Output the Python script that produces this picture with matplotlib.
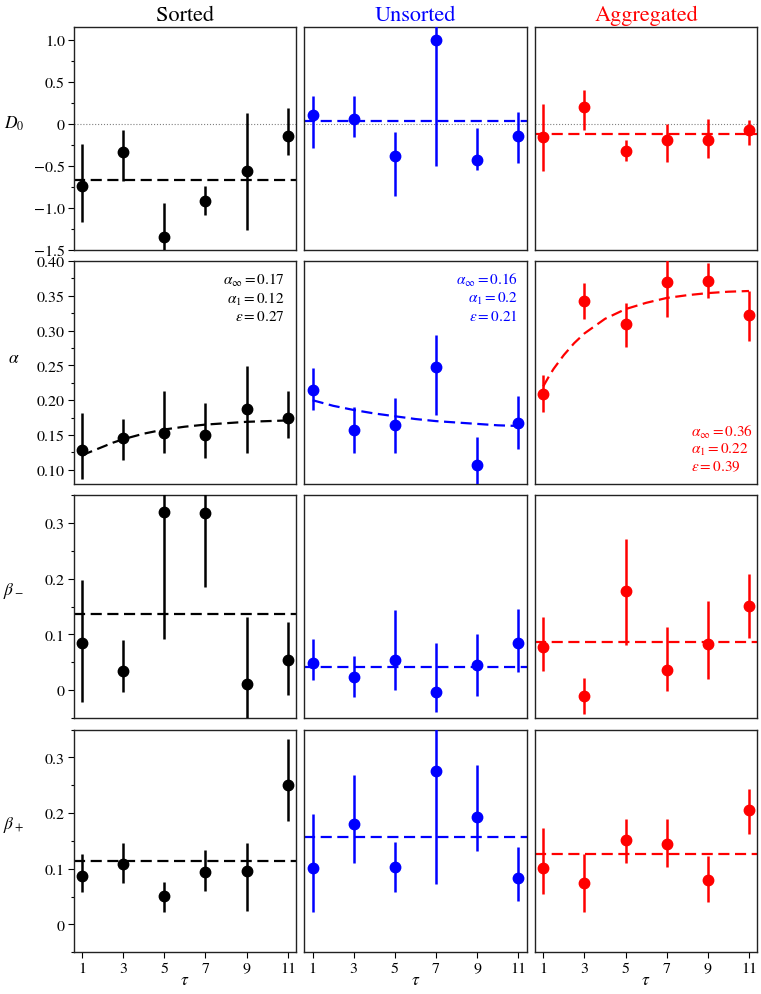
import matplotlib
matplotlib.use("Agg")
from matplotlib import pyplot as plt
from matplotlib.ticker import MultipleLocator

plt.rcParams['font.family'] = ['STIXGeneral', 'DejaVu Serif']
plt.rcParams['mathtext.fontset'] = 'stix'

tau = [1, 3, 5, 7, 9, 11]
columns = ["Sorted", "Unsorted", "Aggregated"]
colors = ["black", "#0000ff", "#ff0000"]
row_labels = [r"$D_0$", r"$\alpha$", r"$\beta_-$", r"$\beta_+$"]

# D0 : point, lower end, upper end of error bar (sorted / unsorted / aggregated)
d0_val = [[-0.745, -0.335, -1.355, -0.92, -0.558, -0.147],
          [0.112, 0.064, -0.386, 1.0, -0.426, -0.139],
          [-0.159, 0.199, -0.327, -0.187, -0.187, -0.068]]
d0_lo = [[-1.175, -0.685, -1.6, -1.084, -1.263, -0.375],
         [-0.287, -0.155, -0.865, -0.506, -0.554, -0.466],
         [-0.566, -0.076, -0.438, -0.454, -0.406, -0.255]]
d0_hi = [[-0.24, -0.068, -0.944, -0.737, 0.131, 0.191],
         [0.331, 0.331, -0.096, 1.5, -0.048, 0.139],
         [0.239, 0.41, -0.187, 0.004, 0.064, 0.052]]
d0_mean = [-0.673, 0.032, -0.12]

# alpha
al_val = [[0.1285, 0.146, 0.153, 0.150, 0.188, 0.175],
          [0.215, 0.1575, 0.165, 0.248, 0.1063, 0.168],
          [0.209, 0.342, 0.310, 0.3695, 0.371, 0.3227]]
al_lo = [[0.087, 0.1135, 0.1246, 0.117, 0.1246, 0.1454],
         [0.1865, 0.1237, 0.1237, 0.1787, 0.06, 0.1304],
         [0.1826, 0.317, 0.2768, 0.319, 0.347, 0.285]]
al_hi = [[0.182, 0.173, 0.213, 0.1956, 0.249, 0.213],
         [0.2468, 0.190, 0.2034, 0.2937, 0.1478, 0.2058],
         [0.2357, 0.3686, 0.3396, 0.42, 0.3975, 0.3565]]

# fitted alpha curves
fit_tau = [1, 1.25, 1.5, 2, 2.5, 3, 4, 5, 6, 7, 8, 9, 10, 11]
fit_sorted = [0.120, 0.124, 0.127, 0.133, 0.139, 0.144, 0.152, 0.158, 0.162,
              0.165, 0.167, 0.169, 0.170, 0.171]
fit_unsorted = [0.200, 0.198, 0.196, 0.192, 0.189, 0.186, 0.181, 0.177, 0.173,
                0.170, 0.168, 0.166, 0.164, 0.163]
fit_aggregated = [0.220, 0.233, 0.245, 0.265, 0.282, 0.296, 0.317, 0.331,
                  0.340, 0.347, 0.351, 0.354, 0.356, 0.357]
fit_text = [r"$\alpha_\infty = 0.17$" + "\n" + r"$\alpha_1 = 0.12$" + "\n" + r"$\varepsilon = 0.27$",
            r"$\alpha_\infty = 0.16$" + "\n" + r"$\alpha_1 = 0.2$" + "\n" + r"$\varepsilon = 0.21$",
            r"$\alpha_\infty = 0.36$" + "\n" + r"$\alpha_1 = 0.22$" + "\n" + r"$\varepsilon = 0.39$"]

# beta minus
bm_val = [[0.0848, 0.0337, 0.3193, 0.3175, 0.0114, 0.0547],
          [0.0487, 0.0228, 0.0547, -0.003, 0.0457, 0.0848],
          [0.0776, -0.0102, 0.1774, 0.0361, 0.083, 0.1515]]
bm_lo = [[-0.0204, -0.0036, 0.092, 0.186, -0.08, -0.0084],
         [0.0174, -0.0126, 0.0006, -0.0397, -0.0102, 0.0331],
         [0.0337, -0.0433, 0.0818, -0.0024, 0.0198, 0.0938]]
bm_hi = [[0.197, 0.0908, 0.40, 0.40, 0.1317, 0.1227],
         [0.092, 0.062, 0.1431, 0.0848, 0.1016, 0.1449],
         [0.1317, 0.021, 0.2724, 0.113, 0.16, 0.208]]
bm_mean = [0.137, 0.0415, 0.086]

# beta plus
bp_val = [[0.0876, 0.108, 0.051, 0.0948, 0.0954, 0.2496],
          [0.102, 0.1806, 0.1026, 0.276, 0.1926, 0.0828],
          [0.102, 0.075, 0.1518, 0.144, 0.0804, 0.2058]]
bp_lo = [[0.0588, 0.0738, 0.0228, 0.06, 0.024, 0.186],
         [0.0216, 0.111, 0.0576, 0.0726, 0.1314, 0.0414],
         [0.054, 0.0228, 0.1098, 0.1032, 0.0396, 0.163]]
bp_hi = [[0.1266, 0.147, 0.0756, 0.1338, 0.147, 0.333],
         [0.1986, 0.268, 0.1476, 0.40, 0.2868, 0.139],
         [0.1734, 0.126, 0.190, 0.189, 0.123, 0.244]]
bp_mean = [0.114, 0.1566, 0.1266]

vals = [d0_val, al_val, bm_val, bp_val]
los = [d0_lo, al_lo, bm_lo, bp_lo]
his = [d0_hi, al_hi, bm_hi, bp_hi]
means = [d0_mean, None, bm_mean, bp_mean]
fits = [fit_sorted, fit_unsorted, fit_aggregated]

ylims = [(-1.5, 1.16), (0.08, 0.40), (-0.05, 0.35), (-0.05, 0.35)]
major = [0.5, 0.05, 0.1, 0.1]
minor = [0.25, 0.025, 0.05, 0.05]

fig, axes = plt.subplots(4, 3, figsize=(7.61, 9.95), dpi=100, sharex=True)
plt.subplots_adjust(left=0.097, right=0.995, bottom=0.042, top=0.972,
                    wspace=0.038, hspace=0.052)

for r in range(4):
    for c in range(3):
        ax = axes[r, c]
        col = colors[c]
        v = vals[r][c]
        yerr = [[v[i] - los[r][c][i] for i in range(6)],
                [his[r][c][i] - v[i] for i in range(6)]]
        if r == 0:
            ax.axhline(0, color='gray', ls=':', lw=0.8, zorder=1)
        if means[r] is not None:
            ax.axhline(means[r][c], color=col, ls='--', lw=1.6, dashes=(5, 2.5), zorder=2)
        else:
            ax.plot(fit_tau, fits[c], color=col, ls='--', lw=1.6, dashes=(5, 2.5), zorder=2)
        ax.errorbar(tau, v, yerr=yerr, fmt='o', color=col, ms=7.5,
                    elinewidth=1.8, capsize=0, zorder=3)
        ax.set_xlim(0.6, 11.4)
        ax.set_ylim(*ylims[r])
        ax.yaxis.set_major_locator(MultipleLocator(major[r]))
        ax.yaxis.set_minor_locator(MultipleLocator(minor[r]))
        for s in ax.spines.values():
            s.set_linewidth(1.0)
            s.set_color('#222222')
        ax.tick_params(labelsize=11.5, direction='out', length=4, width=0.8, pad=2.5)
        ax.tick_params(which='minor', length=2.5, width=0.8)
        if c == 0:
            ax.set_ylabel(row_labels[r], fontsize=12.5, rotation=0)
            ax.yaxis.set_label_coords(-0.27, 0.53)
        else:
            ax.tick_params(axis='y', which='both', left=False, labelleft=False)
        if r < 3:
            ax.tick_params(axis='x', which='both', bottom=False, labelbottom=False)
        else:
            ax.set_xticks(tau)
            ax.set_xlabel(r"$\tau$", fontsize=12.5, labelpad=-2)
        if r == 0:
            ax.set_title(columns[c], color=col, fontsize=16, pad=5)

        if r == 0:
            ax.yaxis.set_major_formatter(plt.FuncFormatter(
                lambda x, p: "0" if abs(x) < 1e-9 else "{:.1f}".format(x).replace("-", "\u2212")))
        elif r == 1:
            ax.yaxis.set_major_formatter(plt.FuncFormatter(
                lambda x, p: "{:.2f}".format(x)))
        else:
            ax.yaxis.set_major_formatter(plt.FuncFormatter(
                lambda x, p: "0" if abs(x) < 1e-9 else "{:.1f}".format(x)))

# fit parameter annotations
axes[1, 0].text(0.95, 0.955, fit_text[0], transform=axes[1, 0].transAxes,
                ha='right', va='top', multialignment='right', fontsize=11,
                color=colors[0], linespacing=1.15)
axes[1, 1].text(0.96, 0.955, fit_text[1], transform=axes[1, 1].transAxes,
                ha='right', va='top', multialignment='right', fontsize=11,
                color=colors[1], linespacing=1.15)
axes[1, 2].text(0.70, 0.045, fit_text[2], transform=axes[1, 2].transAxes,
                ha='left', va='bottom', multialignment='left', fontsize=11,
                color=colors[2], linespacing=1.15)

plt.savefig("out.png", dpi=100)
